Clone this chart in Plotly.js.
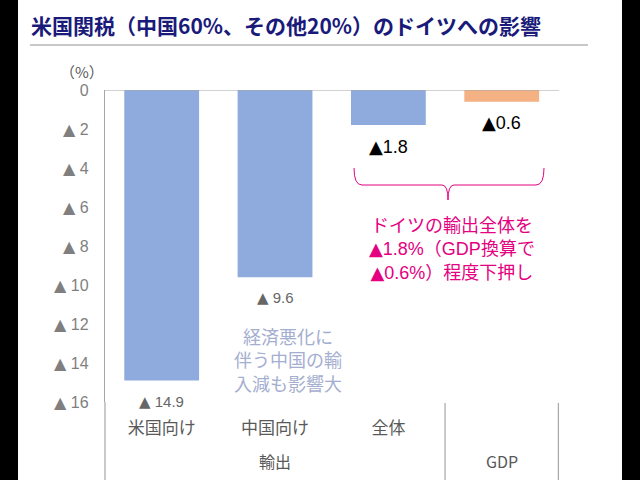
<!DOCTYPE html>
<html>
<head>
<meta charset="utf-8">
<script src="https://cdn.plot.ly/plotly-3.0.1.min.js"></script>
<style>
  html, body { margin: 0; padding: 0; background: #000; }
  #chart { position: absolute; left: 18px; top: 0; width: 604px; height: 480px; background: #fff; }
</style>
</head>
<body>
<div id="chart"></div>
<script>
// ---- data ----
var categories = ["米国向け", "中国向け", "全体", "GDP"];
var subLabels = ["米国向け", "中国向け", "全体", ""];
var groupLabels = ["輸出", "GDP"];
var groupCenters = [1, 3];
var values = [14.9, 9.6, 1.8, 0.6];
var barColors = ["#8FAADC", "#8FAADC", "#8FAADC", "#F4B183"];
var yTicks = [0, 2, 4, 6, 8, 10, 12, 14, 16];
var titleText = "米国関税（中国60%、その他20%）のドイツへの影響";
var noteBlueLines = ["経済悪化に", "伴う中国の輸", "入減も影響大"];
var notePinkLines = ["ドイツの輸出全体を", "▲1.8%（GDP換算で", "▲0.6%）程度下押し"];

// ---- geometry helpers (page pixels -> paper) ----
var PL = 105, PR = 559, PT = 90, PB = 402, OFF = 18;
function px(x) { return (x - PL) / (PR - PL); }
function py(y) { return (PB - y) / (PB - PT); }

var FONT = "Liberation Sans, Arial, Noto Sans CJK JP, sans-serif";
var CJK = "Noto Sans CJK JP, sans-serif";
function tri(s) {
  return s.replace(/▲/g, '<span style="font-family:DejaVu Sans">▲</span>');
}

var trace = {
  type: "bar",
  x: categories,
  y: values.map(function (v) { return -v; }),
  marker: { color: barColors },
  hoverinfo: "skip"
};

var annotations = [];
values.forEach(function (v, i) {
  var gray = i < 2;
  annotations.push({
    x: categories[i], y: -v, xref: "x", yref: "y",
    text: tri((gray ? "▲ " : "▲") + v),
    showarrow: false, xanchor: "center", yanchor: "middle", yshift: -21,
    font: { family: FONT, size: gray ? 15 : 18, color: gray ? "#666666" : "#000000" }
  });
});
groupLabels.forEach(function (g, i) {
  annotations.push({
    x: groupCenters[i], y: py(461), xref: "x", yref: "paper",
    text: g, showarrow: false, xanchor: "center", yanchor: "middle",
    font: { family: CJK, size: 16, color: "#595959" }
  });
});
annotations.push({
  x: px(82), y: py(71), xref: "paper", yref: "paper",
  text: "（%）", showarrow: false, xanchor: "center", yanchor: "middle",
  font: { family: CJK, size: 15, color: "#595959" }
});
annotations.push({
  x: px(288), y: py(361), xref: "paper", yref: "paper",
  text: noteBlueLines.join("<br>"), showarrow: false, align: "center",
  xanchor: "center", yanchor: "middle",
  font: { family: FONT, size: 18, color: "#A4AED0" }
});
annotations.push({
  x: px(452), y: py(249), xref: "paper", yref: "paper",
  text: tri(notePinkLines.join("<br>")), showarrow: false, align: "center",
  xanchor: "center", yanchor: "middle",
  font: { family: FONT, size: 18, color: "#E4007F" }
});

var bx1 = 354, bx2 = 544, bc = 448, by0 = 168, by1 = 185, by2 = 200;
var brace =
  "M " + px(bx1) + "," + py(by0) +
  " Q " + px(bx1) + "," + py(by1) + " " + px(bx1 + 8) + "," + py(by1) +
  " L " + px(bc - 6) + "," + py(by1) +
  " Q " + px(bc) + "," + py(by1) + " " + px(bc) + "," + py(by2) +
  " Q " + px(bc) + "," + py(by1) + " " + px(bc + 6) + "," + py(by1) +
  " L " + px(bx2 - 8) + "," + py(by1) +
  " Q " + px(bx2) + "," + py(by1) + " " + px(bx2) + "," + py(by0);

var shapes = [
  { type: "line", xref: "paper", yref: "paper", x0: px(30), x1: px(588), y0: py(45), y1: py(45),
    line: { color: "#C8C8C8", width: 2 } },
  { type: "line", xref: "paper", yref: "y", x0: 0, x1: 1, y0: 0, y1: 0,
    line: { color: "#A6A6A6", width: 1.2 } },
  { type: "line", xref: "paper", yref: "paper", x0: 0, x1: 0, y0: 0, y1: py(480),
    line: { color: "#A6A6A6", width: 1.2 } },
  { type: "line", xref: "x", yref: "paper", x0: 2.5, x1: 2.5, y0: py(403), y1: py(480),
    line: { color: "#A6A6A6", width: 1.2 } },
  { type: "line", xref: "x", yref: "paper", x0: 3.5, x1: 3.5, y0: py(403), y1: py(480),
    line: { color: "#A6A6A6", width: 1.2 } },
  { type: "path", xref: "paper", yref: "paper", path: brace,
    line: { color: "#E4007F", width: 1 } }
];

var layout = {
  width: 604, height: 480,
  margin: { l: PL - OFF, r: 604 - (PR - OFF), t: PT, b: 480 - PB, pad: 0 },
  paper_bgcolor: "#ffffff", plot_bgcolor: "#ffffff",
  showlegend: false,
  bargap: 0.34,
  title: {
    text: "<b>" + titleText + "</b>",
    x: 13 / 604, xanchor: "left", xref: "container",
    y: 1 - 27 / 480, yanchor: "middle", yref: "container",
    font: { family: CJK, size: 21, color: "#1A1A7A" }
  },
  xaxis: {
    type: "category",
    tickvals: categories, ticktext: subLabels,
    showline: false, showgrid: false, zeroline: false,
    ticks: "", ticklabelstandoff: 14,
    tickfont: { family: CJK, size: 17, color: "#595959" },
    fixedrange: true
  },
  yaxis: {
    range: [-16, 0],
    tickvals: yTicks.map(function (t) { return -t; }),
    ticktext: yTicks.map(function (t) { return t === 0 ? "0" : tri("▲ " + t); }),
    showline: true, linecolor: "#A6A6A6", linewidth: 1.2,
    showgrid: false, zeroline: false,
    ticks: "", ticklabelstandoff: 12,
    tickfont: { family: FONT, size: 16, color: "#7F7F7F" },
    fixedrange: true
  },
  annotations: annotations,
  shapes: shapes
};

Plotly.newPlot("chart", [trace], layout, { displayModeBar: false, staticPlot: true });
</script>
</body>
</html>
